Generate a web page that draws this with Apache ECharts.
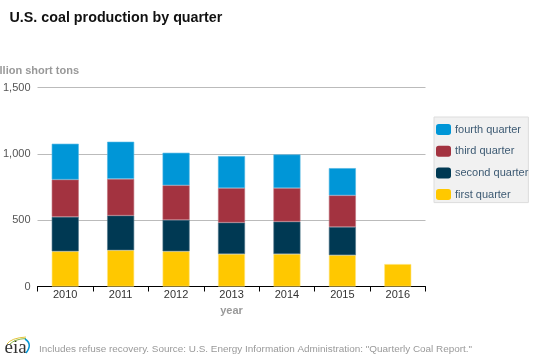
<!DOCTYPE html>
<html><head><meta charset="utf-8">
<style>html,body{margin:0;padding:0;background:#fff}#c{width:540px;height:360px}</style>
<script src="https://cdn.jsdelivr.net/npm/echarts@6/dist/echarts.min.js"></script>
</head><body><div id="c"></div>
<script>
const categories = ['2010','2011','2012','2013','2014','2015','2016'];
const firstQuarter  = [265,273,265,245,245,236,169];
const secondQuarter = [260,262,237,237,244,213,null];
const thirdQuarter  = [281,276,261,260,253,238,null];
const fourthQuarter = [270,280,245,241,253,205,null];
const yTicks = [0,500,1000,1500];
const F = '"Liberation Sans", Arial, sans-serif';
const chart = echarts.init(document.getElementById('c'), null, {renderer:'canvas'});
function s(name,data,color,border){
  return {name,type:'bar',stack:'q',data,barWidth:27,
    itemStyle:{color,borderColor:border,borderWidth:0.6},
    emphasis:{disabled:true},animation:false};
}
chart.setOption({
  animation:false,
  grid:{left:35.5,width:390,top:87.5,height:199,containLabel:false},
  xAxis:{type:'category',data:categories,
    name:'year',nameLocation:'middle',nameGap:17,
    nameTextStyle:{color:'#999',fontFamily:F,fontSize:11,fontWeight:'bold'},
    axisLine:{lineStyle:{color:'#000',width:1}},
    axisTick:{show:true,alignWithLabel:false,length:5,lineStyle:{color:'#000'}},
    axisLabel:{color:'#333',fontFamily:F,fontSize:11,margin:3}},
  yAxis:{type:'value',min:0,max:yTicks[yTicks.length-1],interval:500,
    axisLine:{show:false},axisTick:{show:false},
    splitLine:{lineStyle:{color:'#bbb',width:1}},
    axisLabel:{color:'#555',fontFamily:F,fontSize:11,margin:7,padding:[5,0,0,0],
      formatter:v=>v.toLocaleString('en-US')}},
  legend:{orient:'vertical',left:434,top:117,width:96,
    padding:[7,0,2.5,2],itemGap:10.7,itemWidth:15,itemHeight:11,
    backgroundColor:'#f1f1f1',borderColor:'#ddd',borderWidth:1,
    icon:'roundRect',selectedMode:false,
    itemStyle:{borderWidth:0},
    textStyle:{color:'#3d5a73',fontFamily:F,fontSize:11,padding:[0,0,0,-1]},
    data:['fourth quarter','third quarter','second quarter','first quarter']},
  series:[
    s('first quarter',firstQuarter,'#ffc800','#ffe680'),
    s('second quarter',secondQuarter,'#003953','#4d7488'),
    s('third quarter',thirdQuarter,'#a33340','#c0707a'),
    s('fourth quarter',fourthQuarter,'#0096d7','#4db6e3')
  ],
  graphic:[
    {type:'text',x:9.5,y:18,style:{text:'U.S. coal production by quarter',fill:'#111',font:'bold 14.3px '+F,verticalAlign:'middle'}},
    {type:'text',x:79,y:71,style:{text:'million short tons',fill:'#999',font:'bold 11px '+F,align:'right',verticalAlign:'middle'}},
    {type:'text',x:39,y:349.5,style:{text:'Includes refuse recovery. Source: U.S. Energy Information Administration: "Quarterly Coal Report."',fill:'#999',font:'9.93px '+F,verticalAlign:'middle'}},
    {type:'text',x:4.5,y:348,style:{text:'eia',fill:'#333',font:'19px "Liberation Serif", serif',verticalAlign:'middle'}},
    {type:'bezierCurve',shape:{x1:7,y1:344,cpx1:11,cpy1:338,x2:26,y2:337},style:{stroke:'#e3c43a',fill:null,lineWidth:1}},
    {type:'bezierCurve',shape:{x1:10,y1:344,cpx1:15,cpy1:339,x2:26,y2:338.5},style:{stroke:'#8ab84a',fill:null,lineWidth:1}},
    {type:'bezierCurve',shape:{x1:25,y1:339,cpx1:33,cpy1:344,x2:26,y2:353},style:{stroke:'#0096d7',fill:null,lineWidth:1.5}}
  ]
});
</script></body></html>
